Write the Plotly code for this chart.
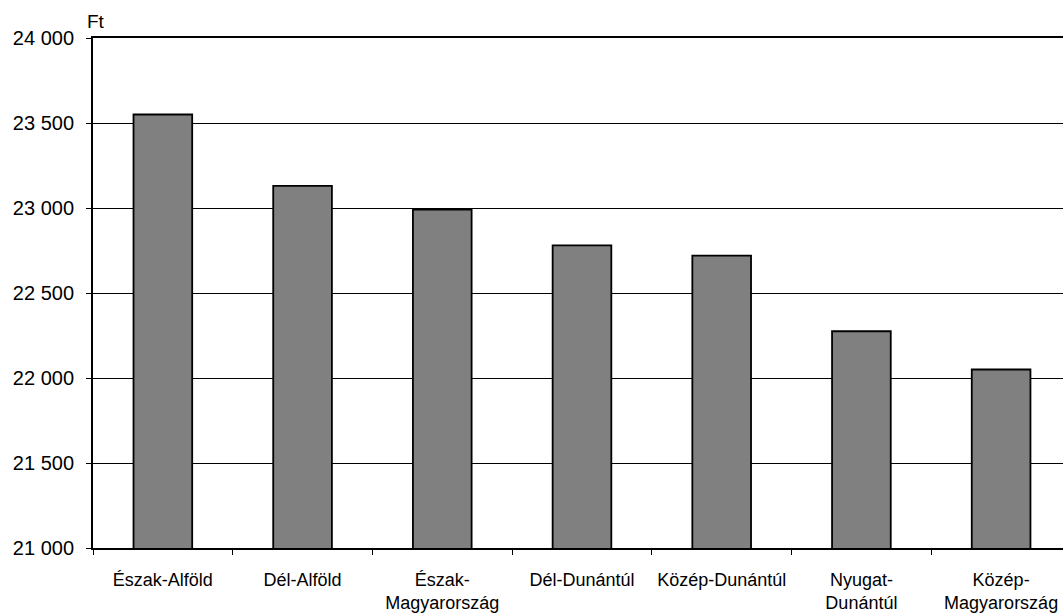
import plotly.graph_objects as go

categories = ["Észak-Alföld", "Dél-Alföld", "Észak-<br>Magyarország", "Dél-Dunántúl",
              "Közép-Dunántúl", "Nyugat-<br>Dunántúl", "Közép-<br>Magyarország"]
values = [23550, 23130, 22990, 22780, 22720, 22275, 22050]
y_ticks = [21000, 21500, 22000, 22500, 23000, 23500, 24000]
unit_label = "Ft"

FONT = "Liberation Sans, Arial, sans-serif"

fig = go.Figure()
fig.add_trace(go.Bar(
    x=categories, y=values, width=0.42,
    marker=dict(color="#808080", line=dict(color="black", width=1.8)),
))

fig.update_layout(
    width=1063, height=613,
    margin=dict(l=93, r=0, t=38, b=63),
    paper_bgcolor="white", plot_bgcolor="white",
    separators=", ",
    showlegend=False,
    font=dict(family=FONT, color="black"),
)
fig.update_xaxes(
    range=[-0.5, 6.443],
    showline=True, linecolor="black", linewidth=2, mirror=True,
    ticks="outside", ticklen=5, tickcolor="black", tickson="boundaries",
    showgrid=False,
    tickfont=dict(size=18, family=FONT, color="black"),
    ticklabelstandoff=14,
)
fig.update_yaxes(
    range=[21000, 24000], tickvals=y_ticks, tickformat=",d",
    showline=True, linecolor="black", linewidth=2,
    ticks="outside", ticklen=5, tickcolor="black",
    showgrid=True, gridcolor="black", gridwidth=1,
    zeroline=False,
    tickfont=dict(size=20, family=FONT, color="black"),
    ticklabelstandoff=8,
)
fig.add_annotation(
    text=unit_label, xref="paper", yref="paper", x=0, y=1,
    xanchor="left", yanchor="middle", xshift=-8, yshift=17,
    showarrow=False, font=dict(size=19, family=FONT, color="black"),
)

fig.write_html(
    "out.html",
    config={"displayModeBar": False},
    post_script="document.body.style.margin='0';document.body.style.overflow='hidden';",
)
